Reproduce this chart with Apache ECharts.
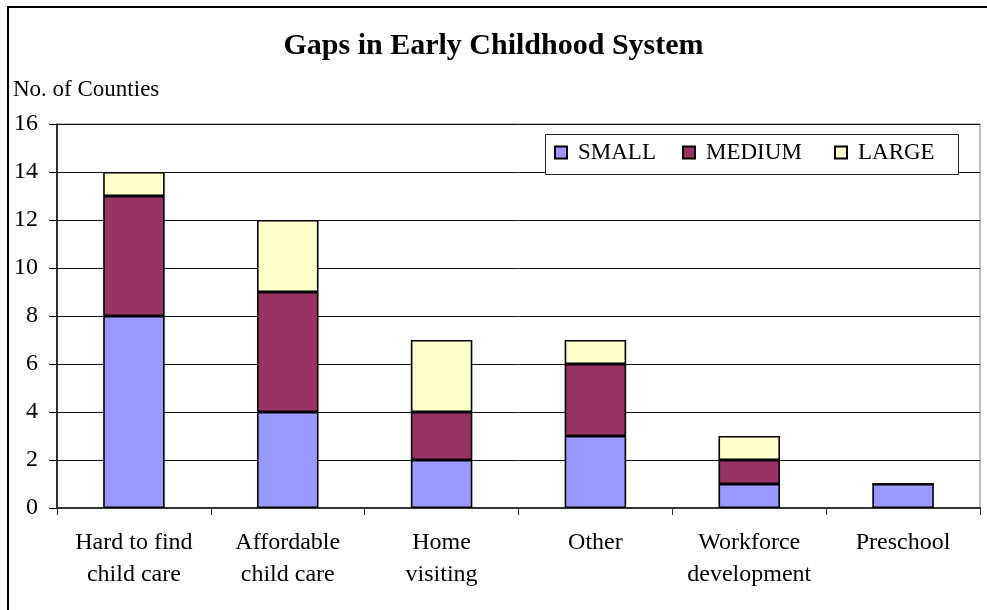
<!DOCTYPE html>
<html>
<head>
<meta charset="utf-8">
<script src="https://cdn.jsdelivr.net/npm/echarts@6/dist/echarts.min.js"></script>
<style>
  html, body { margin: 0; padding: 0; background: #fff; }
  #chart { width: 987px; height: 610px; }
</style>
</head>
<body>
<div id="chart"></div>
<script>
// Counties reporting each kind of gap, split by gap size
const categories = ['Hard to find\nchild care', 'Affordable\nchild care', 'Home\nvisiting', 'Other', 'Workforce\ndevelopment', 'Preschool'];
const smallGap = [8, 4, 2, 3, 1, 1];
const mediumGap = [5, 5, 2, 3, 1, 0];
const largeGap = [1, 3, 3, 1, 1, 0];
const seriesNames = ['SMALL', 'MEDIUM', 'LARGE'];
const yTicks = { min: 0, max: 16, step: 2 };

const FONT = '"Liberation Serif", "Times New Roman", serif';
const colors = ['#9999FF', '#993366', '#FFFFCC'];

const chart = echarts.init(document.getElementById('chart'), null, { renderer: 'canvas' });

function barSeries(name, values, color) {
  return {
    name: name,
    type: 'bar',
    stack: 'gaps',
    data: values,
    barWidth: '40%',
    itemStyle: { color: color, borderColor: '#000', borderWidth: 1.6 },
    emphasis: { disabled: true },
    animation: false
  };
}

function legendItem(name, left) {
  return {
    data: [name],
    left: left,
    top: 141,
    padding: 0,
    icon: 'rect',
    itemWidth: 12,
    itemHeight: 12,
    selectedMode: false,
    textStyle: { fontFamily: FONT, fontSize: 23, color: '#000', padding: [0, 0, 0, 6] }
  };
}

chart.setOption({
  animation: false,
  title: {
    text: 'Gaps in Early Childhood System',
    left: 'center',
    top: 31,
    padding: 0,
    textStyle: { fontFamily: FONT, fontSize: 30, fontWeight: 'bold', color: '#000' }
  },
  legend: [legendItem(seriesNames[0], 554), legendItem(seriesNames[1], 682), legendItem(seriesNames[2], 834)],
  grid: {
    left: 57, right: 7, top: 124, bottom: 102,
    show: true, borderColor: '#808080', borderWidth: 1, backgroundColor: 'transparent'
  },
  xAxis: {
    type: 'category',
    data: categories,
    axisLine: { show: true, lineStyle: { color: '#333', width: 2 } },
    axisTick: { show: true, alignWithLabel: false, length: 7, lineStyle: { color: '#333' } },
    axisLabel: { fontFamily: FONT, fontSize: 24, color: '#000', lineHeight: 32, margin: 19, interval: 0 }
  },
  yAxis: {
    type: 'value',
    min: yTicks.min, max: yTicks.max, interval: yTicks.step,
    axisLine: { show: true, lineStyle: { color: '#000', width: 1.5 } },
    axisTick: { show: true, length: 8, lineStyle: { color: '#000' } },
    axisLabel: { fontFamily: FONT, fontSize: 24, color: '#000', margin: 19 },
    splitLine: { show: true, lineStyle: { color: '#111', width: 1 } }
  },
  graphic: [
    {
      type: 'rect', z: 0, silent: true,
      shape: { x: 8, y: 7, width: 1000, height: 700 },
      style: { fill: 'none', stroke: '#000', lineWidth: 2 }
    },
    {
      type: 'text', z: 5, silent: true,
      x: 13, y: 90,
      style: { text: 'No. of Counties', font: '23px ' + FONT, fill: '#000', verticalAlign: 'middle', align: 'left' }
    },
    {
      type: 'rect', z: 3, silent: true,
      shape: { x: 545.5, y: 134.5, width: 413, height: 40 },
      style: { fill: '#fff', stroke: '#222', lineWidth: 1 }
    }
  ],
  series: [
    barSeries(seriesNames[0], smallGap, colors[0]),
    barSeries(seriesNames[1], mediumGap, colors[1]),
    barSeries(seriesNames[2], largeGap, colors[2])
  ]
});
</script>
</body>
</html>
